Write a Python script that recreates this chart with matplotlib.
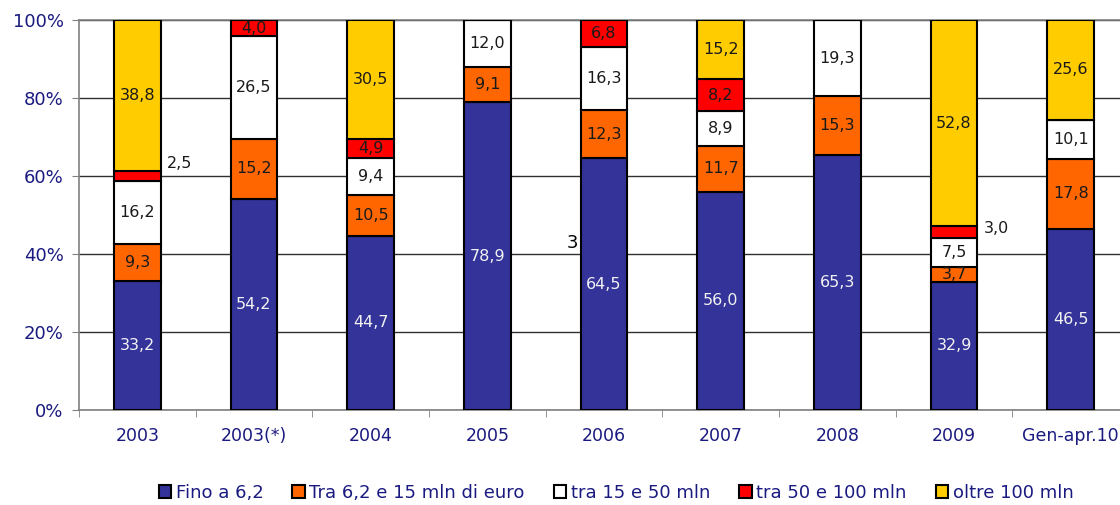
import numpy as np
import matplotlib.pyplot as plt
import matplotlib.patches as mpatches

categories = ['2003', '2003(*)', '2004', '2005', '2006', '2007', '2008', '2009', 'Gen-apr.10']
fino_6 = [33.2, 54.2, 44.7, 78.9, 64.5, 56.0, 65.3, 32.9, 46.5]
tra_6_15 = [9.3, 15.2, 10.5, 9.1, 12.3, 11.7, 15.3, 3.7, 17.8]
tra_15_50 = [16.2, 26.5, 9.4, 12.0, 16.3, 8.9, 19.3, 7.5, 10.1]
tra_50_100 = [2.5, 4.0, 4.9, 0.0, 6.8, 8.2, 0.0, 3.0, 0.0]
oltre_100 = [38.8, 0.0, 30.5, 0.0, 0.0, 15.2, 0.0, 52.8, 25.6]
series_names = ['Fino a 6,2', 'Tra 6,2 e 15 mln di euro', 'tra 15 e 50 mln',
                'tra 50 e 100 mln', 'oltre 100 mln']

colors = ['#333399', '#FF6600', '#FFFFFF', '#FF0000', '#FFCC00']
navy = '#1a1a80'

series = [fino_6, tra_6_15, tra_15_50, tra_50_100, oltre_100]

fig = plt.figure(figsize=(11.2, 5.05), dpi=100)
ax = fig.add_axes([79 / 1120, 95 / 505, 1050 / 1120, 390 / 505])

x = np.arange(len(categories))
bottom = np.zeros(len(categories))
for k, vals in enumerate(series):
    vals = np.array(vals)
    ax.bar(x, vals, 0.4, bottom=bottom, color=colors[k], edgecolor='black',
           linewidth=1.5, zorder=3)
    for i, v in enumerate(vals):
        if v <= 0:
            continue
        cy = bottom[i] + v / 2
        cx = x[i]
        # small slices get their label beside the bar
        if k == 3 and i in (0, 7):
            cx = x[i] + 0.36
            cy = bottom[i] + v / 2 + (3.3 if i == 0 else 1.0)
        tc = '#f2f2f2' if k == 0 else '#1a1a1a'
        ax.text(cx, cy, ('%.1f' % v).replace('.', ','), ha='center', va='center',
                fontsize=11.5, color=tc, zorder=4)
    bottom += vals

ax.text(3.73, 42.8, '3', ha='center', va='center', fontsize=13, color='black',
        fontweight='medium', zorder=4)

ax.set_xlim(-0.5, len(categories) - 0.5)
ax.set_ylim(0, 100)
ax.set_yticks(np.arange(0, 101, 20))
ax.set_yticklabels(['%d%%' % t for t in range(0, 101, 20)])
ax.set_xticks(x)
ax.set_xticklabels(categories)
ax.set_xticks(np.arange(-0.5, len(categories), 1.0), minor=True)
ax.tick_params(axis='x', which='major', length=0, pad=12, labelsize=12.5, labelcolor=navy)
ax.tick_params(axis='x', which='minor', length=5, color='#808080')
ax.tick_params(axis='y', length=5, color='#808080', labelsize=13, labelcolor=navy, pad=6)

ax.yaxis.grid(True, color='#303030', linewidth=1, zorder=0)
ax.set_axisbelow(True)
for s in ['top', 'right']:
    ax.spines[s].set_visible(False)
for s in ['left', 'bottom']:
    ax.spines[s].set_color('#808080')
    ax.spines[s].set_linewidth(1.2)
ax.axhline(100, color='#808080', linewidth=1.2, zorder=1, clip_on=False)

handles = [mpatches.Patch(facecolor=c, edgecolor='black', linewidth=1.5) for c in colors]
leg = fig.legend(handles, series_names, loc='center', bbox_to_anchor=(0.55, 0.024),
                 ncol=5, frameon=False, fontsize=13, handlelength=0.7,
                 handleheight=0.7, handletextpad=0.25, columnspacing=1.6)
for t in leg.get_texts():
    t.set_color(navy)

fig.savefig('out.png', dpi=100)
